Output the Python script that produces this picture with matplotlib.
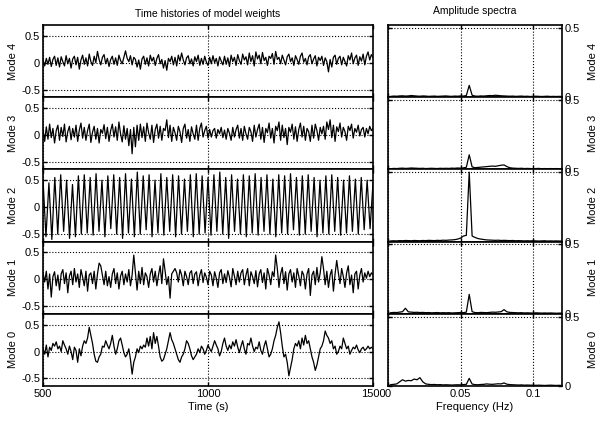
import matplotlib
matplotlib.use('Agg')
import matplotlib.pyplot as plt
import numpy as np

plt.rcParams['font.family'] = ['Liberation Sans', 'DejaVu Sans']
plt.rcParams['font.size'] = 8

modes = ['Mode 4', 'Mode 3', 'Mode 2', 'Mode 1', 'Mode 0']

# time histories, sampled every 5 s from 500 to 1500 s
mode4 = [.05,-.06,.08,-.03,.1,-.07,.06,.12,-.05,.09,
         -.08,.11,.02,-.06,.13,-.02,.08,-.1,.07,.12,
         -.04,.1,-.12,.05,.14,-.03,.09,-.06,.16,.02,
         -.05,.12,.0,.21,.06,-.04,.1,.15,-.02,.08,
         -.07,.06,.12,-.03,.09,-.05,.14,.04,-.02,.1,
         .22,.08,.02,.13,-.04,.1,.06,-.08,.05,-.12,
         .07,.12,-.03,.09,-.06,.14,.03,.1,-.05,.08,
         .15,-.02,.06,-.1,.04,-.14,.08,.02,.12,-.04,
         .1,-.06,.14,.03,.18,.05,-.04,.09,.13,-.02,
         .07,-.06,.11,.02,.14,-.05,.08,-.03,.12,.01,
         -.05,.1,-.02,.13,.0,.08,-.06,.11,.03,-.04,
         .12,-.03,.09,-.07,.14,.02,.1,-.05,.15,.04,
         -.03,.16,.05,.11,-.04,.18,.02,.13,-.06,.2,
         .07,.14,-.02,.19,.04,.1,-.05,.12,.08,.17,
         -.03,.21,.06,.1,-.02,.14,.05,-.04,.11,.16,
         .02,.09,-.05,.13,.06,-.03,.12,.18,.01,.08,
         -.04,.11,.15,-.02,.07,.13,-.06,.1,.04,.12,
         -.05,.09,.02,-.17,.06,-.08,.1,.14,-.03,.08,
         .12,-.04,.1,.02,-.06,.13,.05,.18,-.02,.09,
         .14,-.05,.11,.03,.16,-.04,.12,.2,.05,.15,
         .1]
mode3 = [.1,-.12,.15,-.08,.2,-.05,.12,-.15,.08,.18,
         -.1,.14,-.03,.2,-.13,.06,.16,-.09,.12,-.04,
         .18,-.12,.09,.22,-.06,.14,-.1,.08,.2,-.14,
         .05,.16,-.08,.12,-.15,.1,.03,.19,-.07,.14,
         -.12,.08,.2,-.04,.15,-.1,.24,.02,-.13,.17,
         -.08,.12,-.2,.1,-.35,.14,-.22,.18,-.1,.2,
         -.05,.15,-.12,.22,.04,-.08,.18,-.14,.1,.2,
         -.06,.16,-.1,.12,.08,.28,-.05,.18,-.12,.14,
         .04,-.1,.16,.06,-.14,.12,.2,-.06,.1,-.12,
         .15,.02,-.08,.18,-.1,.12,.22,-.04,.08,.16,
         -.06,.1,-.04,.08,.12,-.06,.1,.02,.14,-.05,
         .09,-.08,.12,.03,-.1,.14,-.04,.1,.18,-.06,
         .12,-.1,.16,.02,-.08,.14,.06,-.12,.18,-.04,
         .1,.2,-.08,.14,-.14,.12,.04,.22,-.06,.12,
         -.15,.16,.08,.24,-.1,.18,-.05,.12,-.18,.14,
         .05,.2,-.08,.15,-.12,.1,.22,-.04,.16,-.1,
         .12,.06,-.12,.18,-.06,.2,.08,-.1,.14,.02,
         .16,-.08,.24,.1,.28,-.05,.18,-.12,.15,.06,
         .22,-.04,.14,.06,-.1,.16,.08,.2,-.06,.12,
         .05,.18,-.02,.1,.14,-.04,.12,.02,.16,.08,
         .12]
# mode 2: successive peaks and troughs of the oscillation
mode2 = [.5,-.55,.45,-.6,.55,-.5,.6,-.45,.5,-.58,
         .42,-.55,.58,-.5,.6,-.48,.55,-.52,.62,-.45,
         .5,-.55,.58,-.4,.6,-.5,.55,-.58,.62,-.48,
         .52,-.55,.65,-.5,.58,-.42,.6,-.55,.5,-.48,
         .62,-.52,.55,-.45,.6,-.55,.58,-.5,.52,-.45,
         .6,-.55,.62,-.5,.58,-.48,.55,-.52,.6,-.45,
         .65,-.5,.55,-.58,.6,-.45,.52,-.5,.6,-.55,
         .58,-.48,.62,-.52,.55,-.45,.6,-.5,.52,-.55,
         .6,-.48,.58,-.5,.62,-.42,.55,-.52,.58,-.5,
         .6,-.45,.55,-.55,.5,-.48,.58,-.5,.6,-.45,
         .55,-.52,.5,-.48,.58,-.45,.52,-.5,.55,-.42,
         .5,-.4,.45]
mode1 = [.12,-.05,.15,-.18,.1,-.33,.05,.14,-.12,.08,
         -.2,.1,.18,-.08,.12,-.25,.06,.15,-.1,.2,
         -.05,.1,-.15,.18,.04,-.12,.15,-.22,.08,.12,
         -.08,.15,-.18,.1,.3,.25,.08,-.1,.15,-.12,
         .05,-.15,.1,.2,-.08,.12,-.18,.06,.15,-.1,
         .1,-.05,.18,-.12,.08,.45,.12,-.2,.15,-.08,
         .22,-.1,.12,.05,-.15,.1,.2,-.05,.15,-.12,
         .08,.25,-.08,.38,.15,-.1,.05,-.35,.1,.15,
         .2,.12,-.05,.18,.08,-.12,.15,.05,-.1,.12,
         .16,-.08,.1,.14,-.12,.08,.18,-.06,.12,.04,
         -.1,.15,.08,-.12,.14,.02,-.15,.12,.18,-.08,
         .1,-.06,.16,.04,-.14,.2,.06,-.1,.15,-.05,
         .12,.18,-.1,.08,.2,-.12,.14,.05,-.08,.16,
         -.14,.1,.18,-.06,.12,-.18,.2,.08,-.1,.14,
         .05,.45,.2,-.15,.1,.22,-.08,.14,-.2,.1,
         .18,-.05,.12,-.15,.2,.06,-.12,.15,.08,-.18,
         .1,.2,-.3,.08,.15,-.1,.22,-.05,.12,.42,
         .2,-.1,.15,-.15,.08,.18,-.22,.1,.35,.12,
         -.08,.2,.05,-.15,.12,.25,-.1,.08,-.25,.1,
         .15,-.18,.08,.2,-.05,.12,.02,.15,.05,.12,
         .08]
mode0 = [.05,-.05,.12,-.1,.08,.02,.15,.1,.18,.05,
         .1,.0,.2,.12,.05,-.05,.1,.0,-.15,.08,
         .02,-.2,.05,-.08,.1,.2,.15,.25,.45,.3,
         .15,-.05,-.18,-.2,-.1,-.05,.1,.08,.2,.12,
         .05,.15,.3,.1,-.05,.05,.2,.25,.12,-.02,
         -.1,-.05,.05,-.15,-.42,-.2,-.1,.05,-.02,.1,
         .05,.12,.08,.25,.1,.28,.05,.35,.15,.28,
         .1,-.1,-.18,-.15,-.05,.05,.2,.35,.22,.15,
         .05,-.05,-.15,-.2,-.1,-.05,.05,.2,.15,.05,
         -.08,-.15,-.1,-.05,.05,-.02,.1,.05,-.05,.02,
         .12,.05,.0,.1,.2,.12,.05,-.08,.0,.15,
         .25,.1,.02,.12,.05,.18,.1,.22,.08,-.02,
         .1,.2,.05,-.05,.15,.12,.25,.1,.0,.08,
         .05,.18,.02,-.05,.1,.2,.05,-.1,-.05,.05,
         .2,.3,.45,.55,.35,.1,-.1,-.05,-.2,-.45,
         -.3,-.15,.05,.15,.1,.2,.05,.25,.12,.3,
         .15,.2,.05,-.1,-.2,-.35,-.25,-.1,.05,.1,
         .2,.38,.3,.25,.15,.2,.05,.1,-.05,.0,
         .1,.05,.25,.15,.05,.1,-.05,.02,.08,.05,
         .12,.03,-.02,.05,.08,.02,.05,.1,.05,.08,
         .05]

# amplitude spectra, every 0.002 Hz from 0 to 0.12 Hz
spec4 = [0.0,.006,.008,.007,.009,.01,.008,.009,.012,.01,
         .008,.007,.009,.008,.006,.007,.008,.006,.007,.008,
         .009,.007,.006,.008,.007,.009,.008,.012,.085,.014,
         .008,.007,.009,.008,.01,.012,.011,.014,.012,.01,
         .009,.008,.007,.008,.006,.007,.008,.006,.007,.005,
         .006,.007,.006,.005,.006,.007,.005,.006,.005,.006,
         .005]
spec3 = [0.0,.005,.007,.006,.008,.009,.007,.008,.01,.009,
         .008,.007,.008,.006,.007,.008,.007,.006,.008,.007,
         .008,.007,.009,.008,.01,.009,.011,.015,.105,.018,
         .012,.014,.016,.018,.02,.022,.024,.022,.026,.03,
         .032,.02,.012,.009,.008,.007,.008,.006,.007,.006,
         .005,.006,.007,.005,.006,.005,.006,.005,.006,.005,
         .005]
spec2 = [0.0,.005,.006,.005,.007,.006,.008,.007,.006,.008,
         .007,.006,.008,.007,.009,.008,.007,.009,.008,.01,
         .009,.011,.012,.014,.018,.025,.04,.045,.5,.04,
         .03,.022,.018,.015,.012,.011,.01,.009,.01,.008,
         .009,.008,.007,.008,.006,.007,.006,.005,.006,.005,
         .006,.005,.004,.005,.006,.004,.005,.004,.005,.004,
         .004]
spec1 = [0.0,.008,.01,.009,.012,.015,.04,.014,.012,.01,
         .011,.009,.01,.008,.009,.007,.008,.009,.007,.008,
         .007,.008,.006,.007,.008,.009,.008,.012,.14,.015,
         .009,.008,.01,.009,.008,.01,.012,.011,.013,.015,
         .03,.014,.01,.009,.008,.007,.008,.006,.007,.006,
         .005,.007,.006,.005,.006,.005,.006,.005,.004,.005,
         .005]
spec0 = [0.0,.01,.012,.015,.03,.045,.035,.04,.038,.05,
         .045,.06,.03,.015,.012,.01,.011,.009,.01,.008,
         .009,.008,.007,.008,.009,.008,.01,.012,.055,.014,
         .01,.009,.011,.012,.015,.013,.012,.014,.016,.015,
         .022,.013,.01,.009,.008,.007,.008,.006,.007,.006,
         .006,.005,.006,.005,.004,.005,.006,.005,.004,.005,
         .004]

series = [mode4, mode3, mode2, mode1, mode0]
spectra = [spec4, spec3, spec2, spec1, spec0]
freq = np.linspace(0, 0.12, 61)

fig = plt.figure(figsize=(6, 4.22), dpi=100)

top = 0.9408
h = 0.1711
for i in range(5):
    y0 = top - (i + 1) * h
    ax = fig.add_axes([0.0717, y0, 0.55, h])
    t = np.linspace(500, 1500, len(series[i]))
    ax.plot(t, series[i], c='k', lw=0.9)
    ax.set_xlim(500, 1500)
    ax.set_ylim(-0.64, 0.7)
    ax.set_xticks([500, 1000, 1500])
    ax.set_yticks([-0.5, 0, 0.5])
    ax.set_yticklabels(['-0.5', '0', '0.5'])
    ax.grid(True, ls=':', c='k', lw=0.8)
    ax.tick_params(direction='in', top=True, right=True, length=3, width=1, pad=2)
    ax.set_ylabel(modes[i], labelpad=2)
    for s in ax.spines.values():
        s.set_linewidth(1.2)
    if i < 4:
        ax.tick_params(labelbottom=False)
    else:
        ax.set_xlabel('Time (s)', labelpad=2)
    if i == 0:
        ax.set_title('Time histories of model weights', fontsize=7.5, pad=6)

    ax2 = fig.add_axes([0.6467, y0, 0.29, h])
    ax2.plot(freq, spectra[i], c='k', lw=0.9)
    ax2.set_xlim(0, 0.12)
    ax2.set_ylim(0, 0.52)
    ax2.set_xticks([0, 0.05, 0.1])
    ax2.set_xticklabels(['0', '0.05', '0.1'])
    ax2.set_yticks([0, 0.5])
    ax2.set_yticklabels(['0', '0.5'])
    ax2.grid(True, ls=':', c='k', lw=0.8)
    ax2.yaxis.tick_right()
    ax2.yaxis.set_label_position('right')
    ax2.tick_params(direction='in', top=True, left=True, length=3, width=1, pad=2)
    ax2.set_ylabel(modes[i], labelpad=6)
    for s in ax2.spines.values():
        s.set_linewidth(1.2)
    if i < 4:
        ax2.tick_params(labelbottom=False)
    else:
        ax2.set_xlabel('Frequency (Hz)', labelpad=2)
    if i == 0:
        ax2.set_title('Amplitude spectra', fontsize=7.5, pad=8)

fig.savefig('out.png', dpi=100)
